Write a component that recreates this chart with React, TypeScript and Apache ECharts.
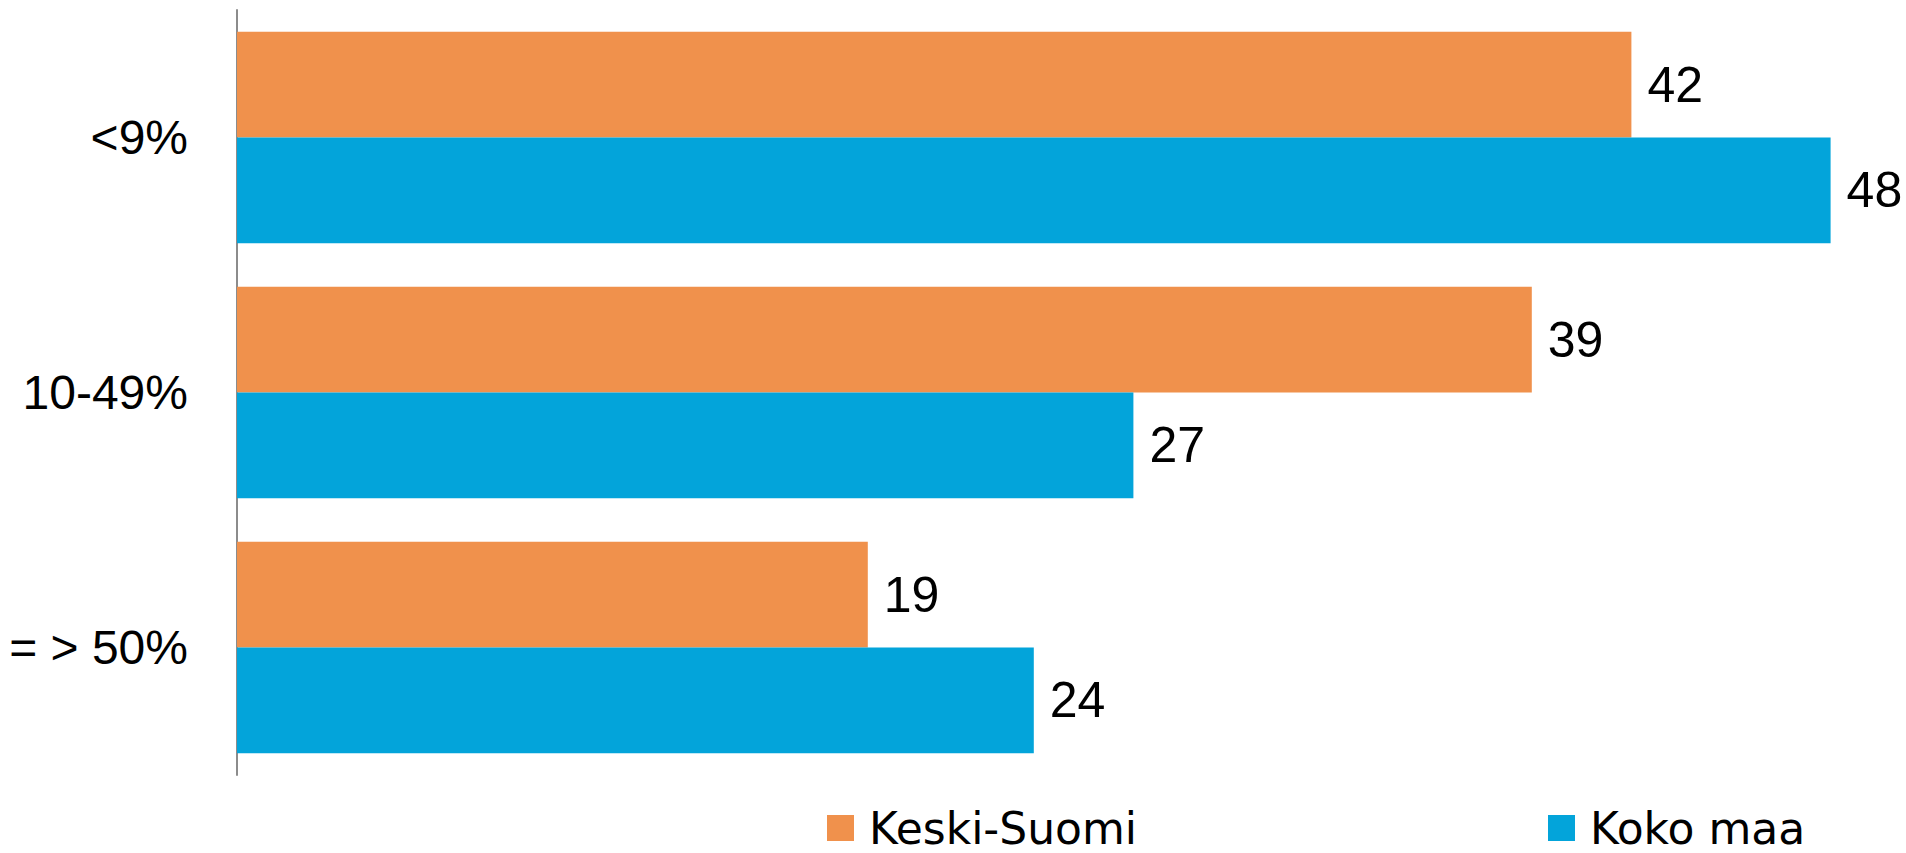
import React, { useEffect, useRef } from "react";
import * as echarts from "echarts";

const categories = ["<9%", "10-49%", "= > 50%"];
const keskiSuomi = [42, 39, 19];
const kokoMaa = [48, 27, 24];
const seriesNames = ["Keski-Suomi", "Koko maa"];

const ORANGE = "#F0914C";
const BLUE = "#03A4DA";
const LABEL_FONT = "'Liberation Sans', sans-serif";
const LEGEND_FONT = "'DejaVu Sans', sans-serif";

export default function App() {
  const ref = useRef<HTMLDivElement>(null);
  useEffect(() => {
    if (!ref.current) return;
    const chart = echarts.init(ref.current, null, { renderer: "svg" });
    const legendBase = {
      top: 806,
      padding: 0,
      itemWidth: 27,
      itemHeight: 26,
      itemGap: 15,
      icon: "rect",
      textStyle: {
        fontFamily: LEGEND_FONT,
        fontSize: 44,
        color: "#000",
        lineHeight: 44,
        padding: [0, 0, 0, 10],
      },
      selectedMode: false,
    };
    const valueLabel = {
      show: true,
      position: "right",
      distance: 16,
      fontFamily: LABEL_FONT,
      fontSize: 50,
      color: "#000",
    };
    chart.setOption({
      animation: false,
      grid: {
        left: 237,
        top: 10,
        width: 1660,
        height: 765,
        containLabel: false,
        outerBoundsMode: "none",
      },
      legend: [
        { ...legendBase, left: 827, data: [seriesNames[0]] },
        { ...legendBase, left: 1548, data: [seriesNames[1]] },
      ],
      xAxis: {
        type: "value",
        min: 0,
        max: 50,
        show: false,
        splitLine: { show: false },
      },
      yAxis: {
        type: "category",
        data: categories,
        inverse: true,
        axisTick: { show: false },
        axisLine: { show: true, lineStyle: { color: "#8c8c8c", width: 2 } },
        axisLabel: {
          margin: 49,
          fontFamily: LABEL_FONT,
          fontSize: 48,
          color: "#000",
        },
      },
      series: [
        {
          name: seriesNames[0],
          type: "bar",
          data: keskiSuomi,
          itemStyle: { color: ORANGE },
          barGap: "0%",
          barCategoryGap: "17%",
          label: valueLabel,
        },
        {
          name: seriesNames[1],
          type: "bar",
          data: kokoMaa,
          itemStyle: { color: BLUE },
          barGap: "0%",
          barCategoryGap: "17%",
          label: valueLabel,
        },
      ],
    });
    return () => chart.dispose();
  }, []);
  return (
    <div
      ref={ref}
      style={{ position: "fixed", left: 0, top: 0, width: 1906, height: 853, background: "#fff" }}
    />
  );
}
